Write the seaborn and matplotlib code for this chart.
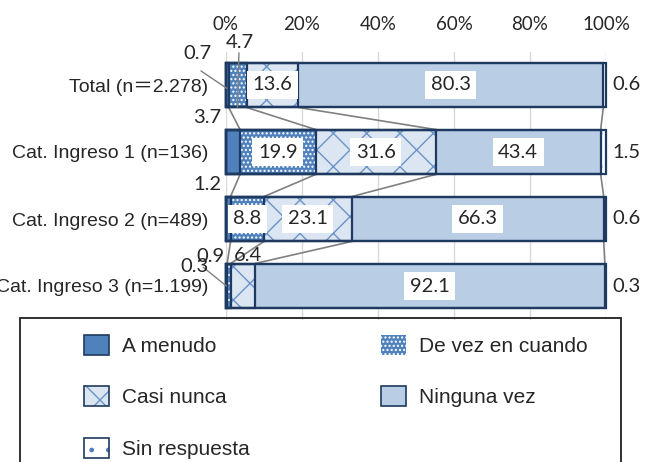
import matplotlib
matplotlib.use('Agg')
import matplotlib.pyplot as plt
import seaborn as sns
import pandas as pd
import numpy as np
from matplotlib.patches import Patch, Rectangle
from matplotlib.legend_handler import HandlerTuple

categories = ['Total (n＝2.278)', 'Cat. Ingreso 1 (n=136)', 'Cat. Ingreso 2 (n=489)', 'Cat. Ingreso 3 (n=1.199)']
series = ['A menudo', 'De vez en cuando', 'Casi nunca', 'Ninguna vez', 'Sin respuesta']
a_menudo = [0.7, 3.7, 1.2, 0.3]
de_vez = [4.7, 19.9, 8.8, 0.9]
casi_nunca = [13.6, 31.6, 23.1, 6.4]
ninguna_vez = [80.3, 43.4, 66.3, 92.1]
sin_respuesta = [0.6, 1.5, 0.6, 0.3]
x_ticks = [0, 20, 40, 60, 80, 100]
x_tick_labels = ['0%', '20%', '40%', '60%', '80%', '100%']

sns.set_theme(style='white')
plt.rcParams['font.family'] = ['Liberation Sans', 'Noto Sans CJK JP', 'DejaVu Sans']
plt.rcParams['hatch.linewidth'] = 1.0
NUM_FONT = ['Lato', 'DejaVu Sans']
DL_SIZE = 14.5

values = np.array([a_menudo, de_vez, casi_nunca, ninguna_vez, sin_respuesta])
cum = np.cumsum(values, axis=0)
df = pd.DataFrame({'cat': categories})
for j, s in enumerate(series):
    df[s] = cum[j]

fig = plt.figure(figsize=(6.51, 4.62), dpi=100)
ax = fig.add_axes([226/651, 1-319.5/462, 380/651, 268/462])

NAVY = '#1F3A60'
styles = {
    'A menudo': dict(fc='#4F81BD', hc='#4F81BD', hatch=None),
    'De vez en cuando': dict(fc='#4F81BD', hc='white', hatch='....'),
    'Casi nunca': dict(fc='#DCE6F2', hc='#6A93C8', hatch='x'),
    'Ninguna vez': dict(fc='#B9CDE5', hc='#B9CDE5', hatch=None),
    'Sin respuesta': dict(fc='white', hc='#4F81BD', hatch='.'),
}
BAR_W = 0.67

# filled layers (largest cumulative first)
for s in reversed(series):
    n0 = len(ax.patches)
    sns.barplot(data=df, x=s, y='cat', orient='h', width=BAR_W, saturation=1,
                color=styles[s]['fc'], errorbar=None, ax=ax)
    for p in ax.patches[n0:]:
        p.set_facecolor(styles[s]['fc'])
        p.set_edgecolor(styles[s]['hc'])
        p.set_linewidth(0)
        p.set_zorder(2)
        p.set_clip_on(False)
        if styles[s]['hatch']:
            p.set_hatch(styles[s]['hatch'])
# outlines
for s in reversed(series):
    n0 = len(ax.patches)
    sns.barplot(data=df, x=s, y='cat', orient='h', width=BAR_W, saturation=1,
                color='white', errorbar=None, ax=ax)
    for p in ax.patches[n0:]:
        p.set_facecolor('none')
        p.set_edgecolor(NAVY)
        p.set_linewidth(1.6)
        p.set_zorder(3)
        p.set_clip_on(False)

# series lines
for i in range(len(categories) - 1):
    for k in range(4):
        ax.plot([cum[k][i], cum[k][i + 1]], [i + BAR_W / 2, i + 1 - BAR_W / 2],
                color='#808080', lw=1.2, zorder=1.5, clip_on=False)

# data labels
small_pos = {(0, 0): (-7.6, -0.47), (0, 1): (3.6, -0.63), (1, 0): (-4.9, 0.49),
             (2, 0): (-4.9, 1.49), (3, 0): (-8.3, 2.71), (3, 1): (-4.0, 2.56),
             (3, 2): (5.8, 2.55)}
for i in range(len(categories)):
    for j in range(4):
        v = values[j][i]
        if v >= 8:
            ax.text(cum[j][i] - v / 2, i, f'{v:.1f}', ha='center', va='center',
                    fontsize=DL_SIZE, family=NUM_FONT, zorder=6,
                    bbox=dict(boxstyle='square,pad=0.28', fc='white', ec='none'))
        else:
            px, py = small_pos[(i, j)]
            ax.text(px, py, f'{v:.1f}', ha='center', va='center',
                    fontsize=DL_SIZE, family=NUM_FONT, zorder=6)
    ax.text(101.8, i, f'{values[4][i]:.1f}', ha='left', va='center',
            fontsize=DL_SIZE, family=NUM_FONT, zorder=6)

# leader lines
ax.plot([-6.6, 0.2], [-0.21, 0.05], color='#808080', lw=1.0, zorder=4, clip_on=False)
ax.plot([3.4, 3.0], [-0.48, 0.33], color='#808080', lw=1.0, zorder=4, clip_on=False)
ax.plot([-6.0, 0.1], [2.72, 3.0], color='#808080', lw=1.0, zorder=4, clip_on=False)

ax.set_xlim(0, 100)
ax.set_ylim(len(categories) - 0.5, -0.5)
ax.xaxis.tick_top()
ax.set_xticks(x_ticks)
ax.set_xticklabels(x_tick_labels, family=NUM_FONT, fontsize=13.5)
ax.tick_params(axis='x', length=0, pad=13)
ax.tick_params(axis='y', length=0, pad=13, labelsize=14)
ax.set_xlabel('')
ax.set_ylabel('')
ax.grid(axis='x', color='#D9D9D9', lw=1)
ax.set_axisbelow(True)
for sp in ax.spines.values():
    sp.set_visible(False)

# legend
h_a = Patch(fc='#4F81BD', ec=NAVY, lw=1.2)
h_dv = Patch(fc='#4F81BD', ec='white', hatch='....', lw=0)
h_cn = (Patch(fc='#DCE6F2', ec='#6A93C8', hatch='x', lw=0), Patch(fc='none', ec=NAVY, lw=1.2))
h_nv = Patch(fc='#B9CDE5', ec=NAVY, lw=1.2)
h_sr = (Patch(fc='white', ec='#4F81BD', hatch='.', lw=0), Patch(fc='none', ec=NAVY, lw=1.2))
leg_kw = dict(loc='upper left', frameon=False, fontsize=15, handlelength=1.2,
              handleheight=1.1, handletextpad=0.62, labelspacing=1.45, borderpad=0,
              borderaxespad=0, handler_map={tuple: HandlerTuple(ndivide=1, pad=0)})
fig.legend(handles=[h_a, h_cn, h_sr], labels=[series[0], series[2], series[4]],
           bbox_to_anchor=(84/651, 1-335/462), **leg_kw)
fig.legend(handles=[h_dv, h_nv], labels=[series[1], series[3]],
           bbox_to_anchor=(381/651, 1-335/462), **leg_kw)
fig.add_artist(Rectangle((20/651, -0.05), 601/651, (462-318)/462 + 0.05,
                         transform=fig.transFigure, fill=False, ec='#202020', lw=1.3))

fig.savefig('out.png', dpi=100)
